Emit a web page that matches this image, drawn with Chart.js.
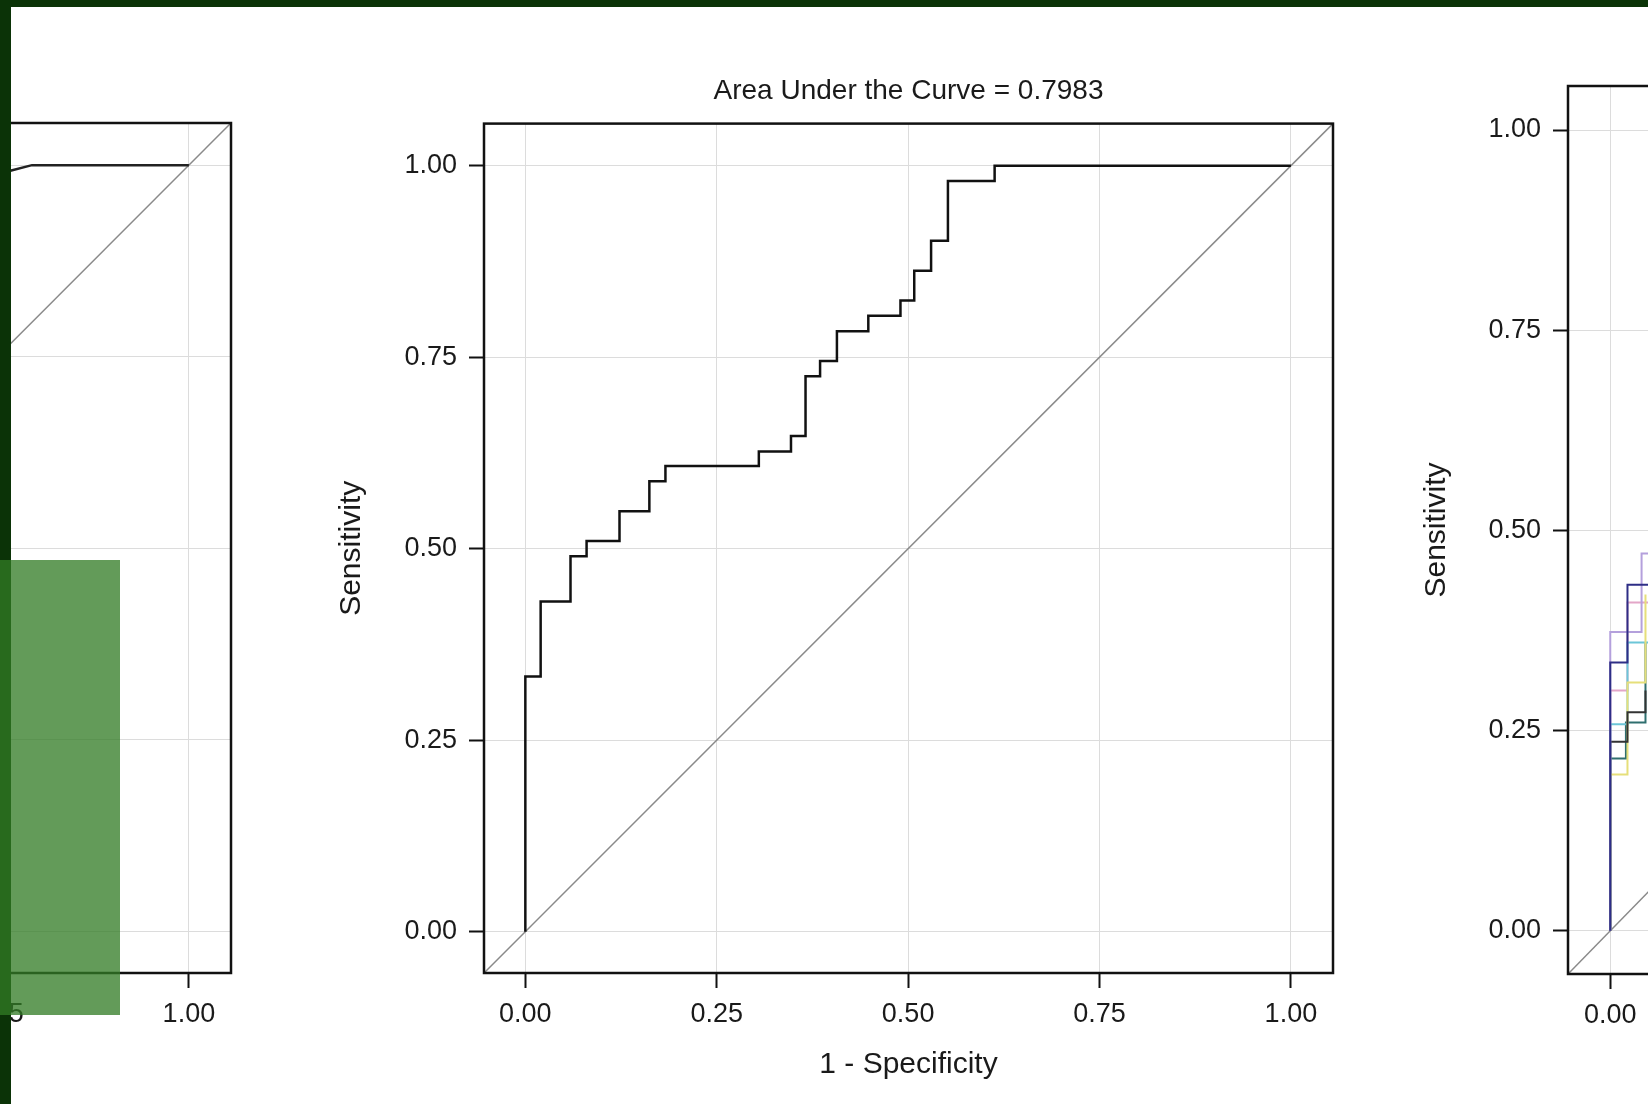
<!DOCTYPE html>
<html>
<head>
<meta charset="utf-8">
<script src="https://cdn.jsdelivr.net/npm/chart.js@4/dist/chart.umd.min.js"></script>
<style>
  html, body { margin: 0; padding: 0; background: #fff; overflow: hidden; }
  body { position: relative; width: 1648px; height: 1104px; }
  canvas { position: absolute; }
  #leftChart { left: -802px; top: 50px; }
  #midChart { left: 300px; top: 50px; }
  #rightChart { left: 1380px; top: 40px; }
  #edgeTop { position: absolute; left: 0; top: 0; width: 1648px; height: 7px; background: #0b3307; }
  #edgeLeft { position: absolute; left: 0; top: 0; width: 11px; height: 1104px; background: #0b3307; }
  #patch { position: absolute; left: 0; top: 560px; width: 120px; height: 455px; background: rgba(50, 123, 37, 0.76); }
</style>
</head>
<body>
<canvas id="leftChart" width="1100" height="1054"></canvas>
<canvas id="midChart" width="1100" height="1054"></canvas>
<canvas id="rightChart" width="1100" height="1064"></canvas>
<div id="edgeTop"></div>
<div id="edgeLeft"></div>
<div id="patch"></div>
<script>
// axis ticks (same on every panel)
let tickVals = [0, 0.25, 0.5, 0.75, 1];
let tickLabels = ["0.00", "0.25", "0.50", "0.75", "1.00"];
let diagX = [-0.054, 1.055];

// middle panel: ROC curve, AUC = 0.7983
let midFpr = [0, 0, 0.02, 0.059, 0.08, 0.123, 0.162, 0.183, 0.305, 0.347, 0.366, 0.385, 0.407, 0.448, 0.49, 0.508, 0.53, 0.552, 0.613, 1.0];
let midTpr = [0, 0.333, 0.431, 0.49, 0.51, 0.549, 0.588, 0.608, 0.627, 0.647, 0.725, 0.745, 0.784, 0.804, 0.824, 0.863, 0.902, 0.98, 1.0, 1.0];

// left panel (only its top right corner shows)
let leftFpr = [0.74, 0.768, 0.795, 1.0];
let leftTpr = [0.985, 0.993, 1.0, 1.0];

// right panel: several overlaid curves, only the start is visible
let rightColors = ["#2e2e86", "#b4a0dc", "#333333", "#e6df7a", "#6cc6d8", "#e3a6c8", "#2f6f6f"];
let rightFpr = [
  [0, 0, 0.022, 0.06],
  [0, 0, 0.04, 0.08],
  [0, 0, 0.022, 0.045],
  [0, 0, 0.022, 0.045],
  [0, 0, 0.022, 0.05],
  [0, 0, 0.022, 0.05],
  [0, 0, 0.02, 0.045]
];
let rightTpr = [
  [0, 0.335, 0.432, 0.47],
  [0, 0.373, 0.471, 0.5],
  [0, 0.236, 0.273, 0.3],
  [0, 0.195, 0.31, 0.42],
  [0, 0.258, 0.36, 0.4],
  [0, 0.3, 0.41, 0.45],
  [0, 0.215, 0.26, 0.36]
];

const FONT = '"Liberation Sans", Arial, sans-serif';
Chart.defaults.font.family = FONT;
Chart.defaults.color = "#1a1a1a";

function pts(xs, ys) {
  return xs.map((x, i) => ({ x: x, y: ys[i] }));
}

// black box round the plot area
const framePlugin = {
  id: "frame",
  afterDatasetsDraw(chart) {
    const a = chart.chartArea;
    const ctx = chart.ctx;
    ctx.save();
    ctx.strokeStyle = "#111";
    ctx.lineWidth = 2.5;
    ctx.strokeRect(a.left, a.top, a.right - a.left, a.bottom - a.top);
    ctx.restore();
  }
};

function axis(o) {
  return {
    type: "linear",
    min: -0.054,
    max: 1.055,
    afterBuildTicks: s => { s.ticks = tickVals.map(v => ({ value: v })); },
    afterFit: o.fit,
    ticks: {
      font: { size: 27 },
      color: "#1a1a1a",
      padding: o.pad,
      callback: (v, i) => tickLabels[i]
    },
    grid: { color: "#dcdcdc", lineWidth: 1, tickColor: "#111", tickWidth: 2, tickLength: 15 },
    border: { display: false },
    title: { display: true, text: o.title, font: { size: 30 }, color: "#1a1a1a", padding: o.titlePad }
  };
}

function diagSet() {
  return {
    data: pts(diagX, diagX),
    borderColor: "#8a8a8a",
    borderWidth: 1.5,
    pointRadius: 0
  };
}

function makeChart(id, datasets, o) {
  return new Chart(id, {
    type: "line",
    data: { datasets: datasets },
    options: {
      responsive: false,
      animation: false,
      layout: { padding: o.layout },
      plugins: {
        legend: { display: false },
        tooltip: { enabled: false },
        title: o.title ? {
          display: true,
          fullSize: false,
          text: o.title,
          font: { size: 28, weight: "normal" },
          color: "#1a1a1a",
          padding: { top: 24, bottom: 16 }
        } : { display: false }
      },
      scales: {
        x: axis({ title: "1 - Specificity", pad: 10, titlePad: { top: 0, bottom: 21 }, fit: s => { s.height = o.xh; } }),
        y: axis({ title: "Sensitivity", pad: 12, titlePad: { top: o.ytp, bottom: 0 }, fit: s => { s.width = o.yw; } })
      }
    },
    plugins: [framePlugin]
  });
}

makeChart("leftChart", [
  { data: pts(leftFpr, leftTpr), borderColor: "#222", borderWidth: 2.5, pointRadius: 0 },
  diagSet()
], { layout: { left: 0, right: 67, top: 73, bottom: 0 }, xh: 131, yw: 184, ytp: 34 });

makeChart("midChart", [
  { data: pts(midFpr, midTpr), borderColor: "#111", borderWidth: 2.5, pointRadius: 0, stepped: true },
  diagSet()
], { title: "Area Under the Curve = 0.7983", layout: { left: 0, right: 67, top: 0, bottom: 0 }, xh: 131, yw: 184, ytp: 34 });

let rightSets = rightFpr.map((xs, k) => ({
  data: pts(xs, rightTpr[k]),
  borderColor: rightColors[k],
  borderWidth: 2,
  pointRadius: 0,
  stepped: true
}));
rightSets.push(diagSet());
makeChart("rightChart", rightSets, { layout: { left: 0, right: 44, top: 46, bottom: 0 }, xh: 130, yw: 188, ytp: 39 });
</script>
</body>
</html>
